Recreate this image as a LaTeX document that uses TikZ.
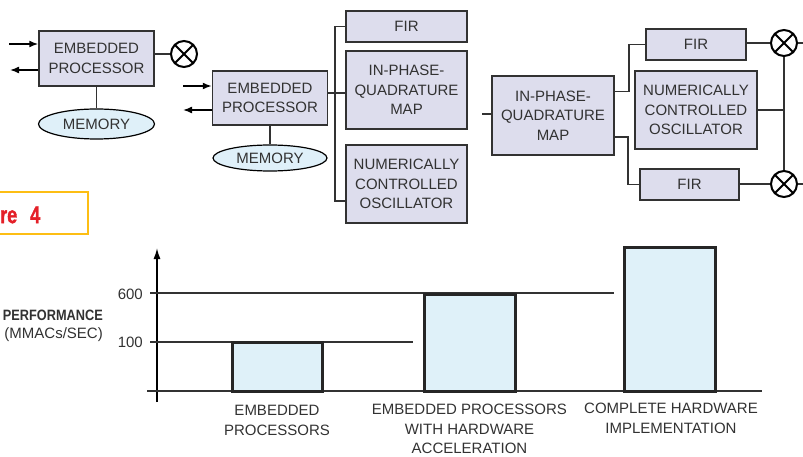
\documentclass[tikz,border=0pt]{standalone}
\usepackage{fontspec}
\setmainfont{Liberation Sans}
\newfontfamily\narrowsans[FakeStretch=0.85]{Liberation Sans}
\newfontfamily\tagsans[FakeStretch=0.75, FakeBold=1.5]{Liberation Sans Bold}
\usetikzlibrary{arrows.meta,shapes.geometric}

\definecolor{boxfill}{RGB}{221,221,237}
\definecolor{memfill}{RGB}{223,240,249}
\definecolor{barfill}{RGB}{223,241,249}
\definecolor{inkgray}{RGB}{50,50,50}
\definecolor{figred}{RGB}{228,32,40}
\definecolor{figgold}{RGB}{253,190,20}

\tikzset{
  txt/.style={text=inkgray, inner sep=0pt, font=\fontsize{15}{19.5}\selectfont},
  blk/.style={txt, draw=inkgray, line width=1.5pt, fill=boxfill, align=center},
  mem/.style={txt, ellipse, draw=black, line width=1.2pt, fill=memfill},
  mult/.style={circle, draw=black, line width=2pt, minimum size=26pt, inner sep=0pt,
    path picture={\draw[line width=2pt]
      (path picture bounding box.north west) -- (path picture bounding box.south east)
      (path picture bounding box.north east) -- (path picture bounding box.south west);}},
  wire/.style={draw=inkgray, line width=1.5pt},
  sig/.style={draw=black, line width=1.5pt, -{Latex[length=9pt,width=7pt]}},
  bar/.style={draw=black!85, line width=3pt, fill=barfill},
  grid/.style={draw=inkgray, line width=1.3pt},
}

\begin{document}
\begin{tikzpicture}[x=1pt, y=-1pt]
\clip (0,0) rectangle (803,457);

% processor with memory and mixer
\node[blk, minimum width=115pt, minimum height=55pt] (ep1) at (96.5,58.5) {EMBEDDED\\PROCESSOR};
\node[mem, minimum width=116pt, minimum height=30pt] (mem1) at (96.5,124) {MEMORY};
\node[mult] (mul1) at (184,54) {};
\coordinate (in1) at (9,44);
\coordinate (out1) at (10,70);
\draw[sig] (in1) -- (in1 -| ep1.west);
\draw[sig] (out1 -| ep1.west) -- (out1);
\draw[wire] (ep1.east |- mul1) -- (mul1);
\draw[wire] (ep1) -- (mem1);

% processor with hardware blocks on a bus
\node[blk, minimum width=115pt, minimum height=54pt] (ep2) at (270,98) {EMBEDDED\\PROCESSOR};
\node[mem, minimum width=114pt, minimum height=26pt] (mem2) at (270,158) {MEMORY};
\node[blk, minimum width=121pt, minimum height=31pt] (fir1) at (406.5,26.5) {FIR};
\node[blk, minimum width=121pt, minimum height=78pt] (iq1) at (406.5,90) {IN-PHASE-\\QUADRATURE\\MAP};
\node[blk, minimum width=121pt, minimum height=78pt] (nco1) at (406.5,184) {NUMERICALLY\\CONTROLLED\\OSCILLATOR};
\coordinate (in2) at (183,86);
\coordinate (out2) at (183,110);
\coordinate (bus) at (335,93);
\draw[sig] (in2) -- (in2 -| ep2.west);
\draw[sig] (out2 -| ep2.west) -- (out2);
\draw[wire] (ep2) -- (mem2);
\draw[wire] (ep2.east |- bus) -- (iq1.west |- bus);
\draw[wire] (fir1.west) -| (bus) |- ([yshift=-17pt]nco1.west);

% all-hardware datapath
\node[blk, minimum width=122pt, minimum height=79pt] (iq2) at (553,115.5) {IN-PHASE-\\QUADRATURE\\MAP};
\node[blk, minimum width=100pt, minimum height=31pt] (fir2) at (696,44.5) {FIR};
\node[blk, minimum width=122pt, minimum height=78pt] (nco2) at (696,110) {NUMERICALLY\\CONTROLLED\\OSCILLATOR};
\node[blk, minimum width=99pt, minimum height=31pt] (fir3) at (689.5,184.5) {FIR};
\node[mult] (mul2) at (784,43) {};
\node[mult] (mul3) at (784,184) {};
\coordinate (in3) at (482,114);
\coordinate (out3) at (803,43);
\coordinate (out4) at (803,184);
\draw[wire] (in3) -- (in3 -| iq2.west);
\draw[wire] ([yshift=24pt]iq2.east) -- ++(14,0) |- (fir2.west);
\draw[wire] ([yshift=-21.5pt]iq2.east) -- ++(13,0) |- (fir3.west);
\draw[wire] (fir2.east |- mul2) -- (mul2);
\draw[wire] (fir3.east |- mul3) -- (mul3);
\draw[wire] (mul2) -- (mul3);
\draw[wire] (nco2.east) -- (nco2.east -| mul2);
\draw[wire] (mul2) -- (out3);
\draw[wire] (mul3) -- (out4);

% figure tag
\draw[figgold, line width=2pt] (-10,192) rectangle (88,234);
\node[anchor=west, inner sep=0pt, text=figred, font=\tagsans\fontsize{24}{28}\selectfont] (fignum) at (0,215) {re\hspace{13pt}4};

% performance chart
\coordinate (ybot) at (157,402);
\coordinate (ytop) at (157,248);
\draw[line width=1.5pt, -{Latex[length=11pt,width=7pt]}] (ybot) -- (ytop);
\draw[grid] (150,293) -- (614,293);
\draw[grid] (150,342) -- (413,342);
\draw[grid] (147,391) -- (762,391);
\draw[bar] (232,391) rectangle (322,342);
\draw[bar] (424,391) rectangle (515,294);
\draw[bar] (624,391) rectangle (715,247);

\node[txt, anchor=east] (t600) at (143,294) {600};
\node[txt, anchor=east] (t100) at (143,342) {100};
\node[txt, anchor=east, font=\narrowsans\bfseries\fontsize{15}{19}\selectfont] (perf) at (103,315) {PERFORMANCE};
\node[txt, anchor=east] (perfunit) at (103,335) {(MMACs/SEC)};

\node[txt, anchor=north, align=center] (lblA) at (277,405) {EMBEDDED\\PROCESSORS};
\node[txt, anchor=north, align=center] (lblB) at (469.5,404) {EMBEDDED PROCESSORS\\WITH HARDWARE\\ACCELERATION};
\node[txt, anchor=north, align=center] (lblC) at (671,403) {COMPLETE HARDWARE\\IMPLEMENTATION};
\end{tikzpicture}
\end{document}
